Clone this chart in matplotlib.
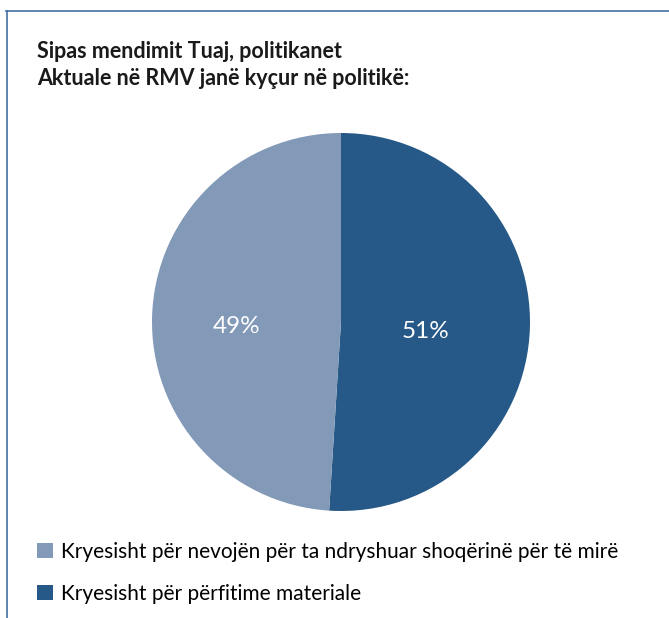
import matplotlib.pyplot as plt
from matplotlib.lines import Line2D
import matplotlib.transforms as mtransforms

labels = ['Kryesisht për përfitime materiale',
          'Kryesisht për nevojën për ta ndryshuar shoqërinë për të mirë']
values = [51, 49]
colors = ['#265987', '#8399b8']

title = 'Sipas mendimit Tuaj, politikanet\nAktuale në RMV janë kyçur në politikë:'

plt.rcParams['font.family'] = ['Lato', 'DejaVu Sans']

W, H = 669, 618
fig = plt.figure(figsize=(W / 100, H / 100), dpi=100)

# pie axes, square in pixels
cx, cy, r = 341, 322, 189
ax = fig.add_axes([(cx - r) / W, (H - cy - r) / H, 2 * r / W, 2 * r / H])
wedges, _, autotexts = ax.pie(values, colors=colors, startangle=90, counterclock=False,
                              autopct='%d%%', pctdistance=0.5,
                              wedgeprops=dict(linewidth=0))
# labels sit a little left and lower than the default spot
shift = mtransforms.ScaledTranslation(-10 / 100, -7 / 100, fig.dpi_scale_trans)
for t in autotexts:
    t.set_color('white')
    t.set_fontsize(17.5)
    t.set_transform(t.get_transform() + shift)
ax.set_xlim(-1, 1)
ax.set_ylim(-1, 1)

fig.text(37 / W, 1 - 41 / H, title, fontsize=15.5, fontweight='bold', va='top',
         ha='left', linespacing=1.35, color='#1a1a1a')

fig.legend(wedges[::-1], labels[::-1], loc='upper left', bbox_to_anchor=(37 / W, 1 - 542 / H),
           frameon=False, fontsize=15, handlelength=0.75, handleheight=0.75,
           handletextpad=0.4, labelspacing=1.05, borderpad=0, borderaxespad=0)

# frame lines (top and left)
bc = '#3f6fa3'
fig.add_artist(Line2D([6 / W, 1], [1 - 11 / H, 1 - 11 / H], color=bc, lw=1.2,
                      transform=fig.transFigure))
fig.add_artist(Line2D([7 / W, 7 / W], [0, 1 - 11 / H], color=bc, lw=1.2,
                      transform=fig.transFigure))

fig.savefig('out.png', dpi=100)
